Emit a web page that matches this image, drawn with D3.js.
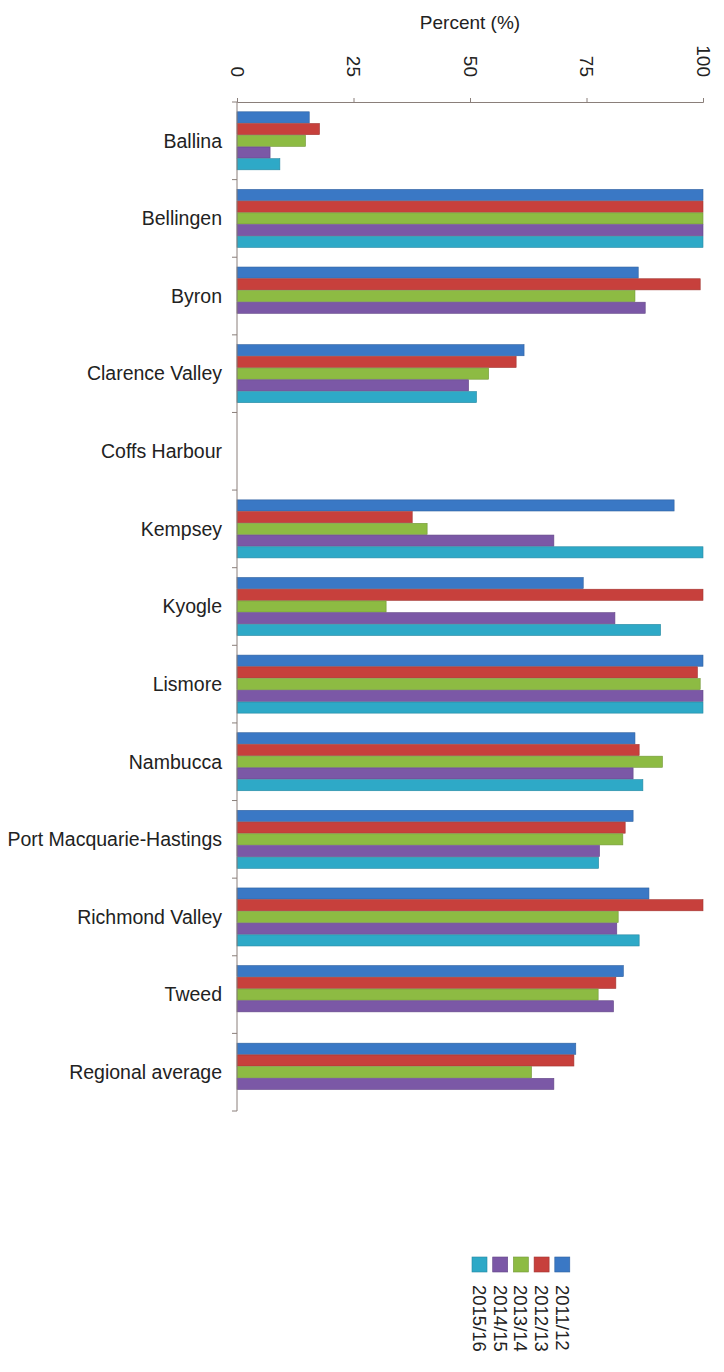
<!DOCTYPE html>
<html>
<head>
<meta charset="utf-8">
<script src="https://cdn.jsdelivr.net/npm/d3@7"></script>
<style>
  html, body { margin: 0; padding: 0; background: #ffffff; }
  svg { display: block; }
  text { font-family: "Liberation Sans", Arial, sans-serif; fill: #222; }
</style>
</head>
<body>
<div id="chart"></div>
<script>
// ---- data ----
const categories = ["Ballina", "Bellingen", "Byron", "Clarence Valley", "Coffs Harbour",
  "Kempsey", "Kyogle", "Lismore", "Nambucca", "Port Macquarie-Hastings",
  "Richmond Valley", "Tweed", "Regional average"];
const seriesNames = ["2011/12", "2012/13", "2013/14", "2014/15", "2015/16"];
const seriesColors = ["#3a78c5", "#c7403c", "#8dbb43", "#7b58a6", "#2ea9c7"];
const v2011_12 = [15.5, 100, 86.1, 61.6, null, 93.8, 74.3, 100, 85.4, 85.0, 88.4, 82.9, 72.7];
const v2012_13 = [17.7, 100, 99.4, 59.9, null, 37.6, 100, 98.8, 86.3, 83.3, 100, 81.3, 72.3];
const v2013_14 = [14.7, 100, 85.4, 54.0, null, 40.8, 32.0, 99.4, 91.3, 82.8, 81.8, 77.5, 63.2];
const v2014_15 = [7.1, 100, 87.6, 49.7, null, 68.0, 81.1, 100, 85.0, 77.8, 81.5, 80.8, 68.0];
const v2015_16 = [9.2, 100, null, 51.4, null, 100, 90.9, 100, 87.1, 77.6, 86.3, null, null];
const seriesValues = [v2011_12, v2012_13, v2013_14, v2014_15, v2015_16];
const xTicks = [0, 25, 50, 75, 100];
const axisTitle = "Percent (%)";

// ---- layout ----
const W = 724, H = 1372;
const mLeft = 237, mRight = 703, mTop = 102, mBottom = 1111;

const svg = d3.select("#chart").append("svg").attr("width", W).attr("height", H);

const x = d3.scaleLinear().domain([0, 100]).range([mLeft, mRight]);
const y0 = d3.scaleBand().domain(categories).range([mTop, mBottom]).padding(0);
const pad = 9.5;
const y1 = d3.scaleBand().domain(seriesNames).range([pad, y0.bandwidth() - pad]).padding(0);

// bars
const groups = svg.append("g").selectAll("g")
  .data(categories).join("g")
  .attr("transform", d => `translate(0,${y0(d)})`);

groups.selectAll("rect")
  .data((c, i) => seriesNames.map((s, j) => ({ s, j, v: seriesValues[j][i] })).filter(d => d.v != null))
  .join("rect")
  .attr("x", x(0))
  .attr("y", d => y1(d.s) + 0.3)
  .attr("width", d => x(d.v) - x(0))
  .attr("height", y1.bandwidth() - 0.6)
  .attr("fill", d => seriesColors[d.j])
  .attr("stroke", d => d3.color(seriesColors[d.j]).darker(0.6))
  .attr("stroke-width", 0.6);

// top axis
const xAxis = svg.append("g")
  .attr("transform", `translate(0,${mTop})`)
  .call(d3.axisTop(x).tickValues(xTicks).tickSize(4).tickFormat(d3.format("d")));
xAxis.select(".domain").attr("stroke", "#8a7f7a").attr("stroke-width", 1);
xAxis.selectAll(".tick line").attr("stroke", "#8a7f7a");
xAxis.selectAll(".tick text")
  .attr("font-size", 19)
  .attr("font-family", "Liberation Sans, Arial, sans-serif")
  .attr("fill", "#222")
  .attr("text-anchor", "end")
  .attr("transform", "translate(0,-25) rotate(90)")
  .attr("x", 0).attr("y", 0)
  .attr("dy", "0.35em");

// axis title
svg.append("text")
  .attr("x", (mLeft + mRight) / 2)
  .attr("y", 29)
  .attr("text-anchor", "middle")
  .attr("font-size", 19)
  .text(axisTitle);

// left axis (category)
const yAxisG = svg.append("g");
yAxisG.append("line")
  .attr("x1", mLeft).attr("x2", mLeft)
  .attr("y1", mTop).attr("y2", mBottom)
  .attr("stroke", "#8a7f7a");
const boundaries = categories.map(c => y0(c)).concat([mBottom]);
yAxisG.selectAll("line.tk").data(boundaries).join("line")
  .attr("class", "tk")
  .attr("x1", mLeft - 5).attr("x2", mLeft)
  .attr("y1", d => d).attr("y2", d => d)
  .attr("stroke", "#8a7f7a");
yAxisG.selectAll("text").data(categories).join("text")
  .attr("x", 222)
  .attr("y", d => y0(d) + y0.bandwidth() / 2)
  .attr("dy", "0.35em")
  .attr("text-anchor", "end")
  .attr("font-size", 19.5)
  .text(d => d);

// legend (rotated, reversed order)
const legendOrder = seriesNames.map((s, j) => j).reverse();
const lg = svg.append("g");
legendOrder.forEach((j, k) => {
  const cx = 479.5 + k * 20.7;
  lg.append("rect")
    .attr("x", cx - 7.5).attr("y", 1257)
    .attr("width", 15).attr("height", 15)
    .attr("fill", seriesColors[j])
    .attr("stroke", d3.color(seriesColors[j]).darker(0.6))
    .attr("stroke-width", 0.6);
  lg.append("text")
    .attr("transform", `translate(${cx},1285) rotate(90)`)
    .attr("dy", "0.35em")
    .attr("text-anchor", "start")
    .attr("font-size", 18.5)
    .text(seriesNames[j]);
});
</script>
</body>
</html>
